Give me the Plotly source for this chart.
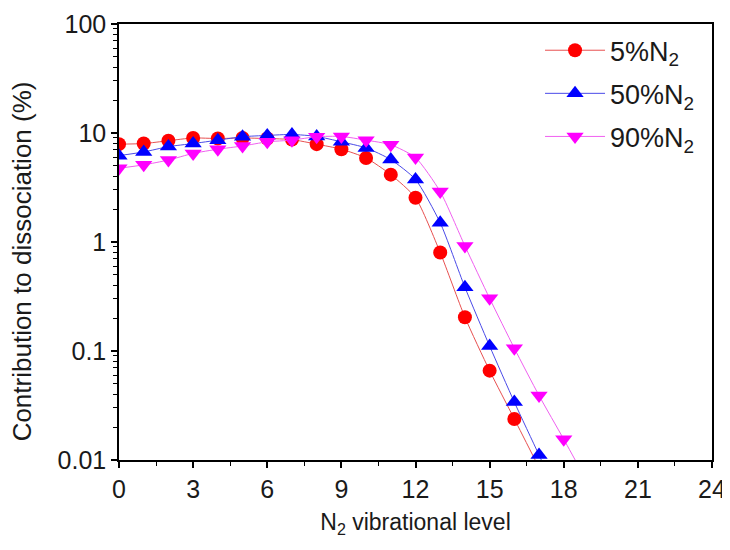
import plotly.graph_objects as go
import numpy as np

# Data
levels_5 = list(range(0, 18))
vals_5 = [7.9, 8.0, 8.5, 9.0, 8.9, 9.0, 8.9, 8.7, 7.9, 7.1, 5.9, 4.15, 2.55, 0.80, 0.204, 0.066, 0.0238, 0.0085]

levels_50 = list(range(0, 19))
vals_50 = [6.2, 6.7, 7.5, 8.0, 8.6, 9.25, 9.5, 9.7, 9.3, 8.3, 7.3, 5.7, 3.75, 1.50, 0.384, 0.111, 0.034, 0.0111, 0.0036]

levels_90 = list(range(0, 20))
vals_90 = [4.75, 5.1, 5.65, 6.5, 7.1, 7.6, 8.3, 8.6, 9.25, 9.3, 8.6, 7.8, 5.95, 2.9, 0.92, 0.304, 0.106, 0.039, 0.0155, 0.006]

names = ["5%N<sub>2</sub>", "50%N<sub>2</sub>", "90%N<sub>2</sub>"]
marker_colors = ["#ff0000", "#0000ff", "#ff00ff"]
line_colors = ["#e85050", "#4a4ae8", "#f060f0"]
symbols = ["circle", "triangle-up", "triangle-down"]
sizes = [14, 15, 15]

x_ticks = [0, 3, 6, 9, 12, 15, 18, 21, 24]
y_ticks = [0.01, 0.1, 1, 10, 100]
y_ticktext = ["0.01", "0.1", "1", "10", "100"]

x_title = "N<sub>2</sub> vibrational level"
y_title = "Contribution to dissociation (%)"

FONT = "Liberation Sans, Arial, sans-serif"
TXT = "#1a1a1a"

fig = go.Figure()
series = [(levels_5, vals_5), (levels_50, vals_50), (levels_90, vals_90)]
for i, (xs, ys) in enumerate(series):
    fig.add_trace(go.Scatter(
        x=xs, y=ys, name=names[i], mode="lines+markers",
        legendgroup=str(i),
        line=dict(color=line_colors[i], width=1, shape="spline", smoothing=0.6),
        marker=dict(color=marker_colors[i], symbol=symbols[i], size=sizes[i], line=dict(width=0)),
    ))

minor_vals = [m * 10.0 ** e for e in range(-2, 2) for m in range(2, 10)]

fig.add_annotation(
    text=y_title, textangle=-90, showarrow=False,
    xref="paper", yref="paper", x=-0.164, y=0.455, xanchor="center", yanchor="middle",
    font=dict(size=26, family=FONT, color=TXT),
)

fig.update_layout(
    width=722, height=542,
    margin=dict(l=111, r=18, t=16, b=90),
    paper_bgcolor="white", plot_bgcolor="white",
    font=dict(family=FONT, size=20, color=TXT),
    showlegend=True,
    legend=dict(x=0.71, y=0.995, xanchor="left", yanchor="top",
                bgcolor="rgba(0,0,0,0)", font=dict(size=27, family=FONT, color=TXT),
                tracegroupgap=5, itemwidth=60),
    xaxis=dict(
        range=[0, 24], tickmode="array", tickvals=x_ticks, automargin=False,
        ticks="outside", ticklen=6, tickwidth=1.5, tickcolor="black",
        showline=True, linecolor="black", linewidth=1.5, mirror=True,
        showgrid=False, zeroline=False,
        tickfont=dict(size=25, family=FONT, color=TXT),
        minor=dict(dtick=1.5, ticks="outside", ticklen=4, tickwidth=1.2, tickcolor="black", showgrid=False),
        title=dict(text=x_title, font=dict(size=23, family=FONT, color=TXT), standoff=12),
    ),
    yaxis=dict(
        type="log", range=[-2, 2], tickmode="array", tickvals=y_ticks, ticktext=y_ticktext, automargin=False,
        ticks="outside", ticklen=6, tickwidth=1.5, tickcolor="black",
        showline=True, linecolor="black", linewidth=1.5, mirror=True,
        showgrid=False, zeroline=False,
        tickfont=dict(size=25, family=FONT, color=TXT),
        minor=dict(tickmode="array", tickvals=minor_vals, ticks="outside", ticklen=4, tickwidth=1.2, tickcolor="black", showgrid=False),
    ),
)

fig.write_html("out.html")
